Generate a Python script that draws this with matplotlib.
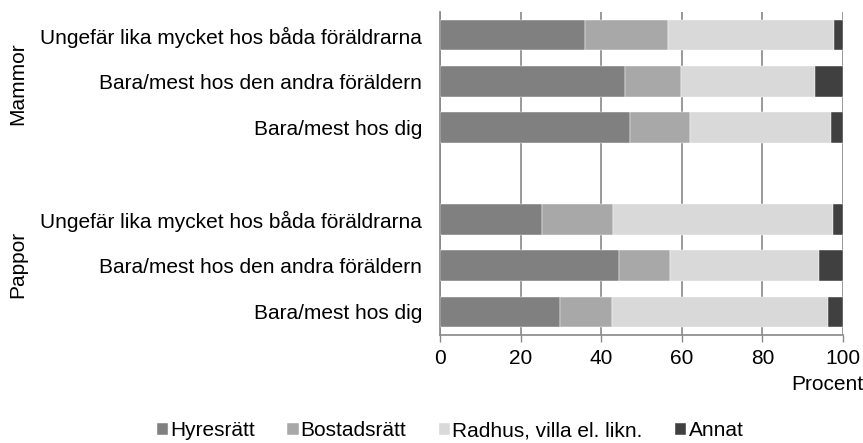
import numpy as np
import matplotlib.pyplot as plt

plt.rcParams['font.family'] = ['Liberation Sans', 'DejaVu Sans']

groups = ["Mammor", "Pappor"]
categories = ["Ungefär lika mycket hos båda föräldrarna",
              "Bara/mest hos den andra föräldern",
              "Bara/mest hos dig"]
series = ["Hyresrätt", "Bostadsrätt", "Radhus, villa el. likn.", "Annat"]
colors = ["#808080", "#a8a8a8", "#d9d9d9", "#404040"]

# rows: Mammor (3 categories), then Pappor (3 categories)
hyresratt = [36.1, 45.8, 47.2, 25.4, 44.5, 29.8]
bostadsratt = [20.5, 14.0, 14.9, 17.6, 12.5, 12.9]
radhus = [41.2, 33.2, 34.8, 54.4, 37.0, 53.5]
annat = [2.2, 7.0, 3.1, 2.6, 6.0, 3.8]

values = [hyresratt, bostadsratt, radhus, annat]
ypos = [0, 1, 2, 4, 5, 6]
labels = categories + categories

fig = plt.figure(figsize=(8.63, 4.43), dpi=100)
ax = fig.add_axes([440 / 863, 1 - 335 / 443, 403 / 863, 323 / 443])

left = np.zeros(len(ypos))
for vals, name, col in zip(values, series, colors):
    ax.barh(ypos, vals, left=left, height=0.667, color=col, label=name,
            edgecolor="white", linewidth=0.3, zorder=3)
    left += np.array(vals)

ax.set_xlim(0, 100)
ax.set_ylim(6.5, -0.5)
ax.set_xticks(range(0, 101, 20))
ax.set_yticks(ypos)
ax.set_yticklabels(labels, fontsize=15)
ax.tick_params(axis="x", labelsize=15, color="#888888", length=5, width=1, pad=5)
ax.tick_params(axis="y", length=0, pad=13)
ax.grid(axis="x", color="#888888", linewidth=1.2, zorder=0)
for s in ["top", "right"]:
    ax.spines[s].set_visible(False)
for s in ["left", "bottom"]:
    ax.spines[s].set_color("#888888")
    ax.spines[s].set_linewidth(1.2)

fig.text(1.0, 1 - 385 / 443, "Procent", ha="right", va="center", fontsize=15)

fig.text(18 / 863, 1 - 84 / 443, groups[0], rotation=90,
         ha="center", va="center", fontsize=15)
fig.text(18 / 863, 1 - 264 / 443, groups[1], rotation=90,
         ha="center", va="center", fontsize=15)

fig.legend(loc="center", bbox_to_anchor=(450 / 863, 1 - 431 / 443), ncol=4,
           frameon=False, fontsize=15,
           handlelength=0.55, handleheight=0.55, handletextpad=0.1, columnspacing=1.55)

fig.savefig("out.png", dpi=100)
